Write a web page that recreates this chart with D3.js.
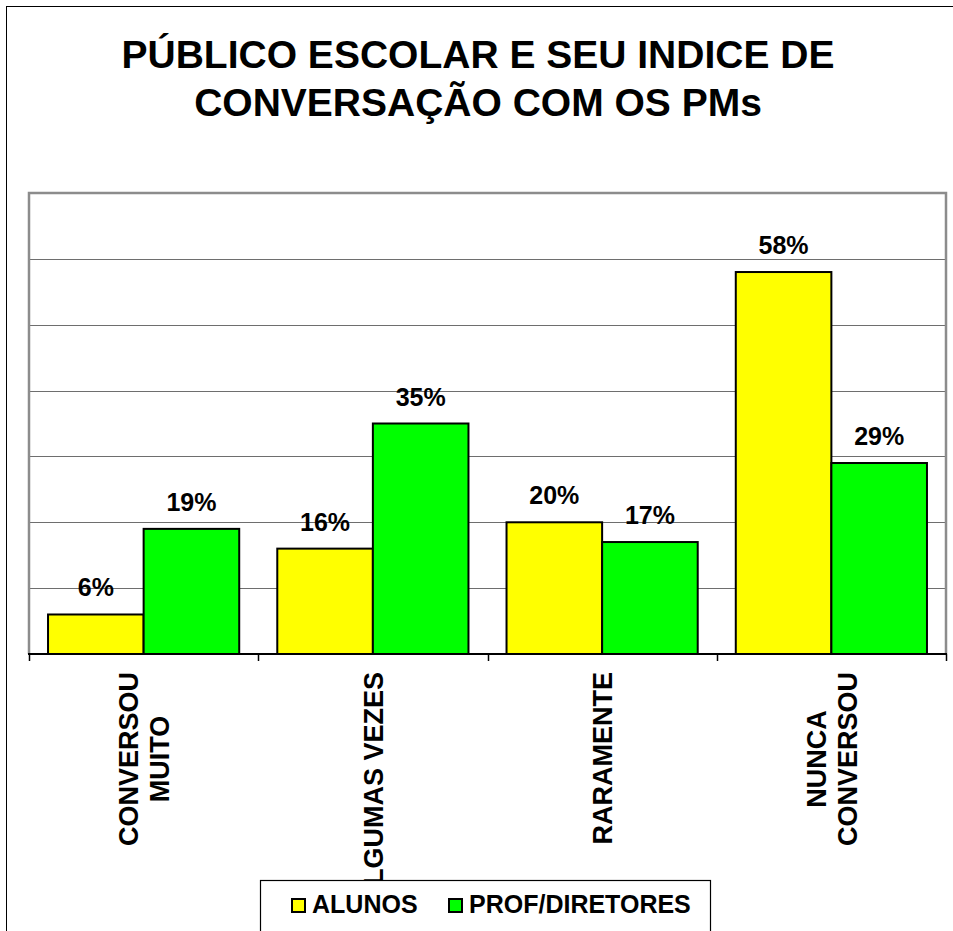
<!DOCTYPE html>
<html>
<head>
<meta charset="utf-8">
<script src="https://cdn.jsdelivr.net/npm/d3@7"></script>
<style>
  body { margin: 0; background: #fff; }
  svg { display: block; font-family: "Liberation Sans", Arial, sans-serif; }
</style>
</head>
<body>
<script>
// chart data
const categories = [["CONVERSOU", "MUITO"], ["ALGUMAS VEZES"], ["RARAMENTE"], ["NUNCA", "CONVERSOU"]];
const seriesNames = ["ALUNOS", "PROF/DIRETORES"];
const alunos = [6, 16, 20, 58];
const profDiretores = [19, 35, 17, 29];
const yTicks = [0, 10, 20, 30, 40, 50, 60, 70];
const colors = ["#ffff00", "#00ff00"];

const width = 953, height = 931;
const plot = { left: 29, right: 946, top: 193, bottom: 654 };

const keys = categories.map(c => c.join(" "));
const rows = keys.map((k, i) => ({ key: k, lines: categories[i], values: [alunos[i], profDiretores[i]] }));

const svg = d3.select("body").append("svg")
    .attr("width", width)
    .attr("height", height);

// outer frame
svg.append("rect")
    .attr("x", 6.5).attr("y", 6.5)
    .attr("width", 960).attr("height", 960)
    .attr("fill", "#fff")
    .attr("stroke", "#000")
    .attr("stroke-width", 1);

// title
svg.append("text")
    .attr("x", 478).attr("y", 68)
    .attr("text-anchor", "middle")
    .style("font", "bold 39px 'Liberation Sans', Arial, sans-serif")
    .selectAll("tspan")
    .data(["PÚBLICO ESCOLAR E SEU INDICE DE", "CONVERSAÇÃO COM OS PMs"])
    .join("tspan")
    .attr("x", 478)
    .attr("dy", (d, i) => i === 0 ? 0 : 48)
    .text(d => d);

const x0 = d3.scaleBand()
    .domain(keys)
    .range([plot.left, plot.right])
    .paddingInner(0.166)
    .paddingOuter(0.083);

const step = x0.step();

const x1 = d3.scaleBand()
    .domain(seriesNames)
    .range([0, x0.bandwidth()]);

const y = d3.scaleLinear()
    .domain([0, 70])
    .range([plot.bottom, plot.top]);

// gridlines
svg.append("g")
    .selectAll("line")
    .data(yTicks.slice(1, -1))
    .join("line")
    .attr("x1", plot.left).attr("x2", plot.right)
    .attr("y1", d => Math.round(y(d)) + 0.5)
    .attr("y2", d => Math.round(y(d)) + 0.5)
    .attr("stroke", "#6e6e6e")
    .attr("stroke-width", 1);

// plot frame (top, left, right in grey)
svg.append("path")
    .attr("d", `M${plot.left},${plot.bottom}V${y(70)}H${plot.right}V${plot.bottom}`)
    .attr("fill", "none")
    .attr("stroke", "#8c8c8c")
    .attr("stroke-width", 2.5);

// bars
const group = svg.append("g")
    .selectAll("g")
    .data(rows)
    .join("g")
    .attr("transform", d => `translate(${x0(d.key)},0)`);

group.selectAll("rect")
    .data(d => d.values.map((v, i) => ({ name: seriesNames[i], value: v, i })))
    .join("rect")
    .attr("x", d => x1(d.name))
    .attr("y", d => y(d.value))
    .attr("width", x1.bandwidth())
    .attr("height", d => y(0) - y(d.value))
    .attr("fill", d => colors[d.i])
    .attr("stroke", "#000")
    .attr("stroke-width", 2);

group.selectAll("text")
    .data(d => d.values.map((v, i) => ({ name: seriesNames[i], value: v })))
    .join("text")
    .attr("x", d => x1(d.name) + x1.bandwidth() / 2)
    .attr("y", d => y(d.value) - 18)
    .attr("text-anchor", "middle")
    .style("font", "bold 25px 'Liberation Sans', Arial, sans-serif")
    .text(d => d.value + "%");

// x axis
const xAxis = svg.append("g");
xAxis.append("line")
    .attr("x1", plot.left - 1).attr("x2", plot.right + 1)
    .attr("y1", plot.bottom).attr("y2", plot.bottom)
    .attr("stroke", "#000")
    .attr("stroke-width", 2);
xAxis.selectAll("line.tick")
    .data(d3.range(keys.length + 1))
    .join("line")
    .attr("class", "tick")
    .attr("x1", i => Math.round(plot.left + i * step) + 0.5)
    .attr("x2", i => Math.round(plot.left + i * step) + 0.5)
    .attr("y1", plot.bottom)
    .attr("y2", plot.bottom + 7)
    .attr("stroke", "#000")
    .attr("stroke-width", 1.5);

// category labels, rotated, block end aligned at y = 672
const labelTop = 672;
const lineH = 31;
const catLabel = svg.append("g")
    .style("font", "bold 27px 'Liberation Sans', Arial, sans-serif")
    .selectAll("g")
    .data(rows)
    .join("g");

catLabel.each(function (d) {
    const g = d3.select(this);
    const cx = x0(d.key) + x0.bandwidth() / 2;
    const n = d.lines.length;
    const texts = g.selectAll("text")
        .data(d.lines)
        .join("text")
        .attr("text-anchor", "middle")
        .attr("dy", "0.36em")
        .text(t => t);
    const maxLen = d3.max(texts.nodes(), t => t.getComputedTextLength());
    const cy = labelTop + maxLen / 2;
    texts.attr("transform", (t, i) => `translate(${cx + (i - (n - 1) / 2) * lineH},${cy}) rotate(-90)`);
});

// legend
const legend = svg.append("g").attr("transform", "translate(260,880)");
legend.append("rect")
    .attr("x", 0.5).attr("y", 0.5)
    .attr("width", 450).attr("height", 80)
    .attr("fill", "#fff")
    .attr("stroke", "#000")
    .attr("stroke-width", 1.2);

const legendX = [32, 189];
const item = legend.selectAll("g")
    .data(seriesNames)
    .join("g")
    .attr("transform", (d, i) => `translate(${legendX[i]},0)`);
item.append("rect")
    .attr("x", 0).attr("y", 19)
    .attr("width", 13).attr("height", 13)
    .attr("fill", (d, i) => colors[i])
    .attr("stroke", "#000")
    .attr("stroke-width", 2);
item.append("text")
    .attr("x", 20).attr("y", 33)
    .style("font", "bold 25px 'Liberation Sans', Arial, sans-serif")
    .text(d => d);
</script>
</body>
</html>
